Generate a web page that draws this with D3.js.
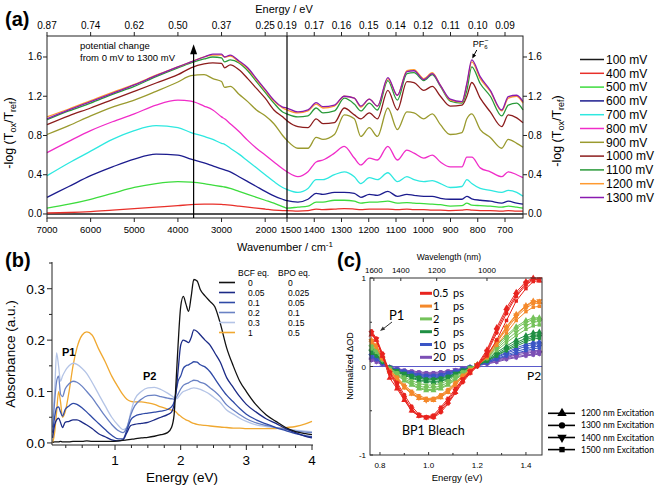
<!DOCTYPE html>
<html><head><meta charset="utf-8">
<script src="https://cdn.jsdelivr.net/npm/d3@7"></script>
<style>body{margin:0;background:#fff}svg{display:block}</style>
</head><body><svg id="c" width="660" height="492"></svg>
<script>
// ================= Panel (a) data =================
const aWn = [7000,6500,6000,5500,5000,4500,4000,3700,3400,3200,3000,2930,2800,2600,2400,2200,2000,1800,1600,1500,
  1460,1423,1393,1368,1326,1290,1253,1229,1198,1168,1130,1095,1060,1034,998,967,937,901,858,840,822,791,754,712,688,657,634];
const aTickWn = [7000,6000,5000,4000,3000,2000,1500,1400,1300,1200,1100,1000,900,800,700];
const aTickLabels = ["7000","6000","5000","4000","3000","2000","1500","1400","1300","1200","1100","1000","900","800","700"];
const aTopLabels = ["0.87","0.74","0.62","0.50","0.37","0.25","0.19","0.17","0.16","0.15","0.14","0.12","0.11","0.10","0.09"];
const aYTicks = [0,0.4,0.8,1.2,1.6];
const aNames = ["100 mV","400 mV","500 mV","600 mV","700 mV","800 mV","900 mV","1000 mV","1100 mV","1200 mV","1300 mV"];
const aColors = ["#1a1a1a","#e8302a","#3ddc3d","#1c1c8e","#2ee8e0","#f02cc8","#9a9a2e","#8c1c1c","#2a9a3a","#ff9a30","#8a1ab0"];
const mV100 = [0,0,0,0,0,0,0,0,0,0, 0,0,0,0,0,0,0,0,0,0, 0,0,0,0,0,0,0,0,0,0, 0,0,0,0,0,0,0,0,0,0, 0,0,0,0,0,0,0];
const mV400 = [0.01,0.015,0.025,0.04,0.055,0.07,0.085,0.095,0.10,0.10, 0.097,0.095,0.09,0.08,0.07,0.06,0.05,0.04,0.035,0.035,
  0.03,0.035,0.05,0.045,0.05,0.055,0.05,0.045,0.05,0.05, 0.05,0.045,0.05,0.045,0.045,0.04,0.04,0.035,0.04,0.045,0.04,0.035,0.035,0.03,0.035,0.03,0.03];
const mV500 = [0.06,0.10,0.15,0.21,0.27,0.31,0.33,0.325,0.31,0.295, 0.28,0.275,0.26,0.23,0.20,0.17,0.14,0.11,0.075,0.06,
  0.07,0.08,0.12,0.12,0.14,0.14,0.13,0.11,0.12,0.12, 0.13,0.11,0.115,0.11,0.105,0.10,0.095,0.08,0.085,0.11,0.09,0.085,0.08,0.07,0.08,0.07,0.06];
const mV600 = [0.17,0.28,0.39,0.48,0.56,0.61,0.60,0.56,0.52,0.49, 0.46,0.45,0.43,0.38,0.33,0.28,0.23,0.185,0.15,0.135,
  0.12,0.15,0.21,0.20,0.22,0.22,0.21,0.17,0.20,0.19, 0.23,0.18,0.20,0.19,0.18,0.18,0.16,0.15,0.15,0.18,0.155,0.14,0.13,0.11,0.13,0.11,0.10];
const mV700 = [0.39,0.52,0.64,0.76,0.85,0.90,0.88,0.83,0.79,0.76, 0.72,0.71,0.67,0.61,0.54,0.47,0.40,0.33,0.27,0.25,
  0.22,0.26,0.35,0.35,0.40,0.43,0.38,0.31,0.37,0.35, 0.42,0.33,0.38,0.35,0.33,0.34,0.31,0.27,0.28,0.35,0.31,0.26,0.24,0.22,0.24,0.22,0.18];
const mV800 = [0.625,0.74,0.85,0.94,1.02,1.11,1.16,1.15,1.10,1.06, 0.99,0.97,0.92,0.84,0.75,0.67,0.60,0.53,0.46,0.43,
  0.38,0.43,0.53,0.55,0.62,0.69,0.57,0.50,0.57,0.55, 0.69,0.55,0.65,0.62,0.57,0.60,0.53,0.48,0.48,0.58,0.58,0.47,0.43,0.38,0.43,0.40,0.37];
const mV900 = [0.81,0.90,1.00,1.09,1.16,1.25,1.345,1.41,1.42,1.38, 1.35,1.29,1.30,1.22,1.145,1.06,1.00,0.92,0.80,0.75,
  0.67,0.67,0.78,0.76,0.81,1.01,0.97,0.79,0.88,0.79, 1.08,0.86,1.04,1.03,0.97,1.02,0.91,0.81,0.83,0.97,1.02,0.86,0.78,0.67,0.76,0.72,0.68];
const mV1000 = [0.91,1.00,1.08,1.165,1.25,1.335,1.42,1.49,1.53,1.54, 1.535,1.49,1.52,1.47,1.38,1.28,1.18,1.06,0.99,0.95,
  0.89,0.88,0.97,0.92,0.93,1.08,1.01,0.97,1.03,0.97, 1.26,1.06,1.35,1.34,1.26,1.30,1.20,1.10,1.11,1.20,1.34,1.18,1.04,0.89,1.01,0.98,0.93];
const mV1100 = [0.96,1.05,1.13,1.22,1.30,1.40,1.49,1.54,1.58,1.60, 1.59,1.55,1.57,1.54,1.46,1.35,1.24,1.13,1.04,1.02,
  0.99,1.00,1.08,1.03,1.05,1.18,1.12,1.05,1.13,1.06, 1.36,1.16,1.43,1.44,1.36,1.42,1.30,1.15,1.13,1.26,1.50,1.33,1.20,1.00,1.11,1.13,1.06];
const mV1200 = [0.99,1.07,1.155,1.24,1.32,1.415,1.50,1.55,1.60,1.62, 1.62,1.60,1.61,1.55,1.48,1.37,1.26,1.15,1.08,1.06,
  1.03,1.05,1.12,1.08,1.10,1.20,1.18,1.09,1.17,1.10, 1.38,1.21,1.46,1.47,1.38,1.44,1.31,1.16,1.14,1.32,1.55,1.38,1.25,1.05,1.18,1.20,1.13];
const mV1300 = [0.97,1.06,1.145,1.23,1.315,1.41,1.50,1.55,1.60,1.63, 1.63,1.60,1.62,1.56,1.49,1.38,1.27,1.16,1.09,1.08,
  1.04,1.06,1.135,1.094,1.11,1.20,1.18,1.10,1.17,1.10, 1.39,1.21,1.45,1.46,1.37,1.43,1.31,1.17,1.145,1.33,1.57,1.40,1.26,1.06,1.196,1.21,1.145];
const aSeries = [mV100,mV400,mV500,mV600,mV700,mV800,mV900,mV1000,mV1100,mV1200,mV1300];
const aArrowWn = 3640, aArrowTop = 1.73, aPFWn = 822;

// ================= Panel (b) data =================
const bE = [0.05,0.08,0.11,0.14,0.17,0.2,0.24,0.3,0.36,0.42, 0.5,0.57,0.65,0.75,0.85,0.95,1.05,1.12,1.18,1.24,
  1.3,1.4,1.5,1.6,1.7,1.8,1.86,1.9,1.93,1.96, 2.0,2.04,2.08,2.12,2.16,2.2,2.25,2.3,2.37,2.45,
  2.52,2.6,2.7,2.8,2.9,3.0,3.15,3.3,3.45,3.6, 3.75,3.9,4.0];
const bBCF = ["0","0.05","0.1","0.2","0.3","1"];
const bBPO = ["0","0.025","0.05","0.1","0.15","0.5"];
const bColors = ["#111111","#1b2a86","#2f4aa6","#6a82c4","#b4c4e6","#f0a830"];
const b0 = [0.001,0.002,0.002,0.002,0.003,0.002,0.002,0.002,0.003,0.003, 0.003,0.004,0.003,0.003,0.003,0.003,0.004,0.005,0.006,0.007,
  0.008,0.01,0.011,0.013,0.016,0.02,0.03,0.055,0.12,0.19, 0.265,0.285,0.27,0.256,0.285,0.318,0.315,0.298,0.286,0.275,
  0.265,0.234,0.185,0.15,0.12,0.1,0.074,0.055,0.042,0.03, 0.022,0.018,0.016];
const b005 = [0.01,0.035,0.045,0.048,0.04,0.03,0.04,0.042,0.045,0.045, 0.04,0.035,0.028,0.018,0.012,0.006,0.004,0.006,0.02,0.034,
  0.036,0.038,0.04,0.045,0.05,0.055,0.06,0.075,0.1,0.14, 0.19,0.2,0.198,0.195,0.205,0.22,0.217,0.21,0.2,0.19,
  0.175,0.158,0.127,0.108,0.09,0.075,0.06,0.047,0.038,0.028, 0.02,0.013,0.01];
const b01 = [0.02,0.05,0.068,0.07,0.06,0.052,0.065,0.072,0.077,0.075, 0.068,0.06,0.05,0.038,0.026,0.015,0.008,0.008,0.025,0.045,
  0.052,0.056,0.058,0.06,0.062,0.065,0.07,0.08,0.1,0.12, 0.13,0.145,0.15,0.152,0.155,0.158,0.157,0.152,0.148,0.138,
  0.125,0.11,0.093,0.08,0.067,0.056,0.045,0.037,0.03,0.024, 0.018,0.014,0.012];
const b02 = [0.03,0.08,0.12,0.13,0.095,0.09,0.105,0.115,0.12,0.118, 0.11,0.1,0.088,0.07,0.052,0.036,0.024,0.02,0.03,0.055,
  0.072,0.085,0.092,0.093,0.09,0.087,0.086,0.085,0.088,0.095, 0.105,0.112,0.115,0.117,0.12,0.122,0.121,0.118,0.115,0.107,
  0.1,0.09,0.074,0.064,0.055,0.047,0.039,0.034,0.03,0.026, 0.023,0.021,0.02];
const b03 = [0.05,0.1,0.175,0.15,0.12,0.13,0.14,0.15,0.155,0.153, 0.145,0.135,0.118,0.095,0.072,0.05,0.034,0.026,0.03,0.06,
  0.085,0.1,0.107,0.108,0.104,0.097,0.092,0.088,0.086,0.088, 0.095,0.1,0.102,0.104,0.106,0.107,0.106,0.104,0.1,0.094,
  0.087,0.079,0.064,0.056,0.048,0.042,0.035,0.032,0.03,0.027, 0.025,0.023,0.022];
const b1 = [0.0,0.02,0.06,0.1,0.08,0.05,0.06,0.1,0.15,0.185, 0.21,0.216,0.21,0.183,0.158,0.13,0.108,0.094,0.085,0.081,
  0.08,0.08,0.078,0.075,0.07,0.066,0.064,0.063,0.06,0.056, 0.052,0.048,0.045,0.043,0.04,0.038,0.036,0.035,0.034,0.033,
  0.032,0.031,0.03,0.029,0.029,0.028,0.028,0.028,0.028,0.03, 0.032,0.037,0.042];
const bSeries = [b0,b005,b01,b02,b03,b1];

// ================= Panel (c) data =================
const cE = [0.765,0.785,0.81,0.84,0.87,0.90,0.93,0.96,0.99,1.02,1.05,1.08,1.11,1.14,1.17,1.20,1.24,1.28,1.32,1.36,1.40,1.43,1.455];
const cDelays = ["0.5","1","2","5","10","20"];
const cColors = ["#e8231e","#f4882a","#74c25a","#1f8f43","#3a55c5","#7c4fb5"];
const cExc = ["1200 nm Excitation","1300 nm Excitation","1400 nm Excitation","1500 nm Excitation"];
const cTopNm = [1600,1400,1200,1000];
const cBottomTicks = [0.8,1.0,1.2,1.4];
// each: [1200 nm, 1300 nm, 1400 nm, 1500 nm]
const c0p5 = [
  [0.36,0.30,0.12,-0.13,-0.25,-0.38,-0.50,-0.56,-0.58,-0.57,-0.50,-0.40,-0.29,-0.16,-0.07,0.02,0.19,0.44,0.66,0.84,0.96,1.00,0.97],
  [0.40,0.32,0.15,-0.06,-0.18,-0.32,-0.45,-0.54,-0.58,-0.58,-0.52,-0.42,-0.30,-0.18,-0.08,0.00,0.15,0.38,0.60,0.79,0.92,0.98,0.98],
  [0.38,0.31,0.13,-0.07,-0.20,-0.35,-0.48,-0.55,-0.57,-0.56,-0.48,-0.38,-0.27,-0.15,-0.06,0.01,0.17,0.41,0.63,0.81,0.94,0.99,0.99],
  [0.37,0.30,0.12,-0.08,-0.22,-0.37,-0.50,-0.56,-0.57,-0.55,-0.46,-0.36,-0.25,-0.14,-0.05,0.00,0.12,0.30,0.52,0.74,0.88,0.96,0.97]];
const c1 = [
  [0.30,0.24,0.10,-0.06,-0.15,-0.24,-0.31,-0.36,-0.38,-0.38,-0.35,-0.29,-0.21,-0.12,-0.05,0.02,0.13,0.29,0.45,0.59,0.69,0.74,0.73],
  [0.28,0.23,0.09,-0.05,-0.13,-0.22,-0.30,-0.35,-0.37,-0.37,-0.33,-0.27,-0.19,-0.11,-0.04,0.02,0.12,0.27,0.42,0.56,0.66,0.71,0.72],
  [0.29,0.23,0.10,-0.05,-0.14,-0.23,-0.30,-0.35,-0.38,-0.37,-0.34,-0.28,-0.20,-0.12,-0.05,0.02,0.12,0.28,0.44,0.58,0.68,0.73,0.74],
  [0.27,0.22,0.09,-0.04,-0.12,-0.21,-0.28,-0.33,-0.36,-0.36,-0.32,-0.26,-0.18,-0.10,-0.04,0.01,0.10,0.24,0.38,0.52,0.62,0.67,0.68]];
const c2 = [
  [0.25,0.20,0.09,-0.04,-0.10,-0.16,-0.21,-0.25,-0.27,-0.27,-0.25,-0.21,-0.15,-0.09,-0.03,0.02,0.12,0.24,0.35,0.45,0.52,0.55,0.55],
  [0.23,0.19,0.08,-0.03,-0.09,-0.15,-0.20,-0.24,-0.26,-0.26,-0.24,-0.20,-0.14,-0.08,-0.03,0.02,0.11,0.22,0.33,0.43,0.50,0.53,0.54],
  [0.22,0.18,0.08,-0.03,-0.08,-0.14,-0.18,-0.22,-0.24,-0.24,-0.22,-0.18,-0.13,-0.07,-0.02,0.02,0.10,0.20,0.30,0.39,0.46,0.50,0.51],
  [0.20,0.16,0.07,-0.02,-0.07,-0.12,-0.16,-0.19,-0.21,-0.21,-0.19,-0.16,-0.11,-0.06,-0.02,0.02,0.09,0.18,0.27,0.35,0.42,0.46,0.47]];
const c5 = [
  [0.20,0.16,0.07,-0.02,-0.06,-0.10,-0.13,-0.16,-0.17,-0.18,-0.17,-0.14,-0.10,-0.06,-0.02,0.02,0.08,0.16,0.23,0.30,0.35,0.38,0.39],
  [0.18,0.14,0.06,-0.02,-0.06,-0.09,-0.12,-0.15,-0.16,-0.17,-0.16,-0.13,-0.09,-0.05,-0.02,0.02,0.07,0.14,0.21,0.27,0.32,0.35,0.36],
  [0.17,0.13,0.06,-0.02,-0.05,-0.08,-0.11,-0.13,-0.15,-0.15,-0.14,-0.12,-0.08,-0.05,-0.02,0.01,0.07,0.13,0.19,0.25,0.30,0.33,0.34],
  [0.15,0.12,0.05,-0.01,-0.05,-0.08,-0.10,-0.12,-0.14,-0.14,-0.13,-0.11,-0.08,-0.04,-0.01,0.01,0.06,0.12,0.18,0.23,0.28,0.31,0.32]];
const c10 = [
  [0.15,0.12,0.05,-0.02,-0.05,-0.08,-0.10,-0.12,-0.13,-0.13,-0.12,-0.10,-0.07,-0.04,-0.01,0.01,0.06,0.11,0.16,0.21,0.25,0.27,0.28],
  [0.13,0.10,0.05,-0.01,-0.04,-0.07,-0.09,-0.11,-0.12,-0.12,-0.11,-0.09,-0.06,-0.04,-0.01,0.01,0.05,0.10,0.15,0.19,0.23,0.25,0.26],
  [0.12,0.09,0.04,-0.01,-0.04,-0.06,-0.08,-0.10,-0.11,-0.11,-0.10,-0.08,-0.06,-0.03,-0.01,0.01,0.05,0.09,0.13,0.17,0.20,0.22,0.23],
  [0.11,0.08,0.04,-0.01,-0.03,-0.05,-0.07,-0.09,-0.10,-0.10,-0.09,-0.07,-0.05,-0.03,-0.01,0.01,0.04,0.08,0.12,0.15,0.18,0.20,0.21]];
const c20 = [
  [0.10,0.08,0.03,-0.01,-0.04,-0.06,-0.08,-0.09,-0.10,-0.10,-0.09,-0.07,-0.05,-0.03,-0.01,0.01,0.04,0.08,0.11,0.14,0.17,0.18,0.18],
  [0.09,0.07,0.03,-0.01,-0.03,-0.05,-0.07,-0.08,-0.09,-0.09,-0.08,-0.07,-0.05,-0.03,-0.01,0.01,0.04,0.07,0.10,0.13,0.15,0.16,0.17],
  [0.08,0.06,0.03,-0.01,-0.03,-0.05,-0.06,-0.07,-0.08,-0.08,-0.07,-0.06,-0.04,-0.02,-0.01,0.01,0.03,0.06,0.09,0.11,0.13,0.14,0.15],
  [0.07,0.05,0.02,-0.01,-0.02,-0.04,-0.05,-0.06,-0.07,-0.07,-0.06,-0.05,-0.04,-0.02,-0.01,0.01,0.03,0.05,0.08,0.10,0.12,0.13,0.14]];
const cSeries = [c0p5,c1,c2,c5,c10,c20];

// ================= drawing =================
const svg = d3.select("#c");
const F = '"Liberation Sans", Arial, sans-serif';
const FC = 'Lato, "Open Sans", sans-serif';
function txt(g, x, y, s, o = {}) {
  const t = g.append("text").attr("x", x).attr("y", y).text(s)
    .attr("font-size", o.size || 10).attr("font-family", o.family || F)
    .attr("text-anchor", o.anchor || "start").attr("fill", o.fill || "#000");
  if (o.weight) t.attr("font-weight", o.weight);
  return t;
}
function seg(g, x1, y1, x2, y2, c = "#000", w = 1) {
  return g.append("line").attr("x1", x1).attr("y1", y1).attr("x2", x2).attr("y2", y2).attr("stroke", c).attr("stroke-width", w);
}
function arrowHead(g, x1, y1, x2, y2, len, wid, c = "#000") {
  const a = Math.atan2(y2 - y1, x2 - x1);
  const bx = x2 - len * Math.cos(a), by = y2 - len * Math.sin(a);
  const px = -Math.sin(a) * wid / 2, py = Math.cos(a) * wid / 2;
  g.append("path").attr("d", `M${x2},${y2}L${bx + px},${by + py}L${bx - px},${by - py}Z`).attr("fill", c);
}
function logLabel(g, x, y, size) {
  const t = g.append("text").attr("transform", `translate(${x},${y}) rotate(-90)`)
    .attr("text-anchor", "middle").attr("font-size", size).attr("font-family", F);
  t.append("tspan").text("-log (T");
  t.append("tspan").text("ox").attr("font-size", size * 0.72).attr("dy", 3);
  t.append("tspan").text("/T").attr("dy", -3);
  t.append("tspan").text("ref").attr("font-size", size * 0.72).attr("dy", 3);
  t.append("tspan").text(")").attr("dy", -3);
}

// ----- Panel (a)
{
  const g = svg.append("g");
  const L = 47, R = 523, T = 36, B = 218;
  const x = d3.scaleLinear().domain([7000, 1500, 634]).range([L, 287, R]);
  const y = d3.scaleLinear().domain([-0.041, 1.814]).range([B, T]);
  const line = d3.line().x((d, i) => x(aWn[i])).y(d => y(d)).curve(d3.curveMonotoneX);
  aSeries.forEach((s, k) => {
    g.append("path").attr("d", line(s)).attr("fill", "none").attr("stroke", aColors[k]).attr("stroke-width", 1.3);
  });
  g.append("rect").attr("x", L).attr("y", T).attr("width", R - L).attr("height", B - T)
    .attr("fill", "none").attr("stroke", "#222").attr("stroke-width", 1);
  seg(g, x(1500), T, x(1500), B, "#000", 1.2);
  aTickWn.forEach((w, i) => {
    const xx = x(w);
    seg(g, xx, B, xx, B + 4, "#222");
    seg(g, xx, T, xx, T - 4, "#222");
    const dx = w === 1500 ? 4 : (w === 2000 ? 1 : 0);
    txt(g, xx + dx, 233, aTickLabels[i], { size: 9.5, anchor: "middle" });
    txt(g, xx, 29, aTopLabels[i], { size: 10, anchor: "middle" });
  });
  aYTicks.forEach(v => {
    seg(g, L - 4, y(v), L, y(v), "#222");
    seg(g, R, y(v), R + 4, y(v), "#222");
    txt(g, L - 5, y(v) + 3.5, v.toFixed(1), { size: 10, anchor: "end" });
    txt(g, R + 5, y(v) + 3.5, v.toFixed(1), { size: 10 });
  });
  txt(g, 5, 26, "(a)", { size: 20, weight: "bold" });
  txt(g, 284, 13, "Energy / eV", { size: 11, anchor: "middle" });
  const wl = txt(g, 285, 251, "Wavenumber / cm", { size: 11, anchor: "middle" });
  wl.append("tspan").text("-1").attr("font-size", 8).attr("dy", -4);
  logLabel(g, 13, 133, 12.5);
  logLabel(g, 561, 131, 12.5);
  // arrow annotation
  const axx = x(aArrowWn);
  seg(g, axx, B, axx, y(aArrowTop) + 8, "#000", 1.2);
  arrowHead(g, axx, B, axx, y(aArrowTop), 10, 7);
  txt(g, 80, 49, "potential change", { size: 9.5 });
  txt(g, 80, 61, "from 0 mV to 1300 mV", { size: 9.5 });
  // PF6-
  const px = x(aPFWn);
  const pf = txt(g, px + 1, 47, "PF", { size: 9 });
  pf.append("tspan").text("6").attr("font-size", 6).attr("dy", 2);
  pf.append("tspan").text("−").attr("font-size", 7).attr("dy", -6).attr("dx", -3.5);
  seg(g, px + 5, 50, px + 1.5, 56.5, "#000", 1);
  arrowHead(g, px + 5, 50, px + 0.5, 58.5, 4.5, 4);
  // legend
  aNames.forEach((n, i) => {
    const yy = 59.5 + 13.8 * i;
    seg(g, 580, yy, 604, yy, aColors[i], 1.5);
    txt(g, 606, yy + 4.3, n, { size: 12 });
  });
}

// ----- Panel (b)
{
  const g = svg.append("g");
  const L = 52, R = 312, T = 262, B = 445;
  const x = d3.scaleLinear().domain([0.04, 4.0]).range([L, R]);
  const y = d3.scaleLinear().domain([-0.004, 0.352]).range([B, T]);
  const line = d3.line().x((d, i) => x(bE[i])).y(d => y(d)).curve(d3.curveMonotoneX);
  [5, 4, 3, 2, 1, 0].forEach(k => {
    g.append("path").attr("d", line(bSeries[k])).attr("fill", "none").attr("stroke", bColors[k]).attr("stroke-width", 1.3);
  });
  seg(g, L, T, L, B, "#222");
  seg(g, L, B, R + 1, B, "#222");
  d3.range(0.25, 4.01, 0.25).forEach(v => {
    const major = Math.abs(v - Math.round(v)) < 1e-6;
    seg(g, x(v), B, x(v), B + (major ? 5 : 3), "#222");
    if (major) txt(g, x(v), 465, String(Math.round(v)), { size: 13.5, anchor: "middle" });
  });
  [0, 0.05, 0.1, 0.15, 0.2, 0.25, 0.3, 0.35].forEach((v, i) => {
    const major = i % 2 === 0;
    seg(g, L - (major ? 5 : 3), y(v), L, y(v), "#222");
    if (major) txt(g, L - 7, y(v) + 5, v.toFixed(1), { size: 13.5, anchor: "end" });
  });
  txt(g, 5, 267, "(b)", { size: 20, weight: "bold" });
  txt(g, 182, 482, "Energy (eV)", { size: 13.5, anchor: "middle" });
  g.append("text").attr("transform", "translate(15,354) rotate(-90)").attr("text-anchor", "middle")
    .attr("font-size", 13.5).attr("font-family", F).text("Absorbance (a.u.)");
  txt(g, 62, 356, "P1", { size: 11, weight: "bold" });
  txt(g, 143, 380, "P2", { size: 11, weight: "bold" });
  txt(g, 238, 276, "BCF eq.", { size: 8.5 });
  txt(g, 278, 276, "BPO eq.", { size: 8.5 });
  bBCF.forEach((s, i) => {
    const yy = 282.5 + 10 * i;
    seg(g, 219, yy, 235, yy, bColors[i], 1.6);
    txt(g, 248, yy + 3, s, { size: 8.5 });
    txt(g, 288, yy + 3, bBPO[i], { size: 8.5 });
  });
}

// ----- Panel (c)
{
  const g = svg.append("g");
  const L = 370, R = 542, T = 278, B = 455;
  const x = d3.scaleLinear().domain([0.759, 1.466]).range([L, R]);
  const y = d3.scaleLinear().domain([-1, 1]).range([B, T]);
  const line = d3.line().x((d, i) => x(cE[i])).y(d => y(d));
  const syms = [d3.symbolTriangle, d3.symbolCircle, d3.symbolTriangle, d3.symbolSquare];
  const sizes = [16, 13, 16, 12];
  const rots = [0, 0, 180, 0];
  seg(g, L, y(0), R, y(0), "#5a5acb", 1.2);
  for (let k = cSeries.length - 1; k >= 0; k--) {
    cSeries[k].forEach((s, e) => {
      g.append("path").attr("d", line(s)).attr("fill", "none").attr("stroke", cColors[k]).attr("stroke-width", 1);
      const sym = d3.symbol().type(syms[e]).size(sizes[e]);
      s.forEach((v, i) => {
        g.append("path").attr("d", sym()).attr("fill", cColors[k])
          .attr("transform", `translate(${x(cE[i])},${y(v)}) rotate(${rots[e]})`);
      });
    });
  }
  g.append("rect").attr("x", L).attr("y", T).attr("width", R - L).attr("height", B - T)
    .attr("fill", "none").attr("stroke", "#333").attr("stroke-width", 1);
  cBottomTicks.forEach(v => {
    seg(g, x(v), B, x(v), B - 3, "#333");
    txt(g, x(v), 468, v.toFixed(1), { size: 8, anchor: "middle" });
  });
  [0.9, 1.1, 1.3].forEach(v => seg(g, x(v), B, x(v), B - 2, "#333"));
  cTopNm.forEach(nm => {
    const xx = x(1239.84 / nm);
    seg(g, xx, T, xx, T + 3, "#333");
    txt(g, xx, 273, String(nm), { size: 8, anchor: "middle" });
  });
  [1, 0, -1].forEach(v => {
    seg(g, L, y(v), L + 3, y(v), "#333");
    txt(g, L - 4, y(v) + 3, String(v), { size: 8, anchor: "end" });
  });
  [0.5, -0.5].forEach(v => seg(g, L, y(v), L + 2, y(v), "#333"));
  txt(g, 337, 267, "(c)", { size: 20, weight: "bold" });
  txt(g, 449, 260, "Wavelength (nm)", { size: 8.5, anchor: "middle" });
  txt(g, 457, 481, "Energy (eV)", { size: 9.5, anchor: "middle" });
  g.append("text").attr("transform", "translate(353,366) rotate(-90)").attr("text-anchor", "middle")
    .attr("font-size", 9).attr("font-family", F).text("Normalized ΔOD");
  cDelays.forEach((d, i) => {
    const yy = 293.3 + 12.8 * i;
    seg(g, 420, yy, 432, yy, cColors[i], 3);
    txt(g, 433, yy + 4, d, { size: 11, family: FC });
    txt(g, 453, yy + 4, "ps", { size: 11, family: FC });
  });
  txt(g, 389, 320, "P1", { size: 13, family: FC });
  seg(g, 392, 322, 383, 329, "#333", 1);
  arrowHead(g, 392, 322, 380, 331, 5, 4, "#333");
  txt(g, 527, 380, "P2", { size: 12, family: FC });
  txt(g, 402, 435, "BP1 Bleach", { size: 12.5, family: FC });
  cExc.forEach((s, e) => {
    const yy = 413.3 + 12.1 * e;
    seg(g, 548, yy, 575, yy, "#000", 1.6);
    g.append("path").attr("d", d3.symbol().type(syms[e]).size(sizes[e] * 2.4)())
      .attr("transform", `translate(562,${yy}) rotate(${rots[e]})`).attr("fill", "#000");
    txt(g, 581, yy + 3, s, { size: 8.5, family: FC });
  });
}
</script></body></html>
